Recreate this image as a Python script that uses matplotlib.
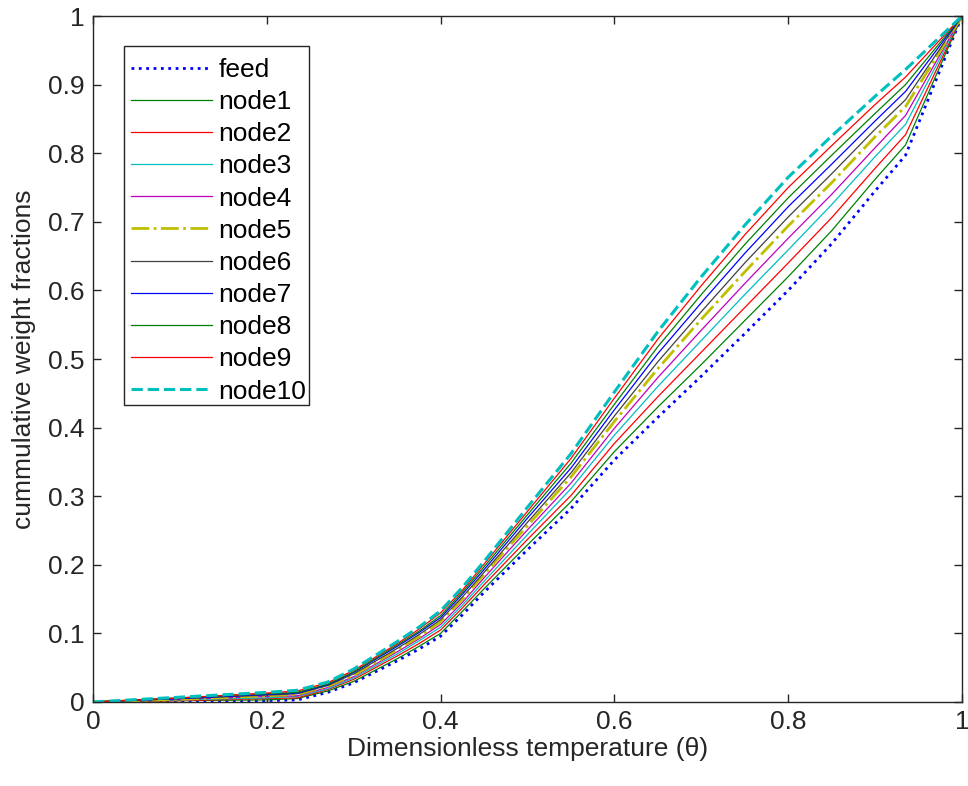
import matplotlib
matplotlib.use("Agg")
import matplotlib.pyplot as plt
from matplotlib.patches import Rectangle

plt.rcParams['font.family'] = ['Liberation Sans', 'DejaVu Sans']

theta = [0, 0.1, 0.2, 0.235, 0.27, 0.3, 0.35, 0.375, 0.4, 0.425, 0.45, 0.5, 0.55, 0.6,
         0.65, 0.7, 0.75, 0.8, 0.85, 0.9, 0.935, 1.0]

feed   = [0, 0.001, 0.002, 0.003, 0.014, 0.028, 0.060, 0.077, 0.096, 0.127, 0.160, 0.222, 0.282, 0.353, 0.415, 0.475, 0.537, 0.600, 0.668, 0.745, 0.797, 1]
node1  = [0, 0.002, 0.003, 0.005, 0.016, 0.030, 0.063, 0.081, 0.100, 0.132, 0.165, 0.229, 0.292, 0.365, 0.430, 0.492, 0.556, 0.620, 0.687, 0.762, 0.812, 1]
node2  = [0, 0.002, 0.005, 0.006, 0.018, 0.033, 0.067, 0.085, 0.105, 0.137, 0.171, 0.237, 0.301, 0.377, 0.445, 0.510, 0.575, 0.640, 0.706, 0.778, 0.827, 1]
node3  = [0, 0.003, 0.006, 0.008, 0.019, 0.035, 0.070, 0.089, 0.109, 0.141, 0.176, 0.244, 0.311, 0.389, 0.460, 0.527, 0.594, 0.659, 0.725, 0.795, 0.842, 1]
node4  = [0, 0.004, 0.008, 0.009, 0.021, 0.037, 0.073, 0.092, 0.113, 0.145, 0.181, 0.251, 0.319, 0.399, 0.473, 0.542, 0.610, 0.676, 0.740, 0.808, 0.855, 1]
node5  = [0, 0.004, 0.009, 0.011, 0.023, 0.039, 0.076, 0.095, 0.117, 0.150, 0.186, 0.257, 0.328, 0.409, 0.486, 0.558, 0.627, 0.694, 0.757, 0.824, 0.868, 1]
node6  = [0, 0.005, 0.010, 0.012, 0.024, 0.041, 0.078, 0.098, 0.120, 0.153, 0.189, 0.262, 0.334, 0.417, 0.496, 0.569, 0.640, 0.707, 0.770, 0.835, 0.878, 1]
node7  = [0, 0.005, 0.011, 0.013, 0.025, 0.043, 0.081, 0.101, 0.123, 0.157, 0.193, 0.268, 0.341, 0.426, 0.508, 0.582, 0.654, 0.722, 0.784, 0.847, 0.890, 1]
node8  = [0, 0.006, 0.012, 0.014, 0.026, 0.044, 0.083, 0.103, 0.126, 0.160, 0.197, 0.273, 0.348, 0.434, 0.518, 0.594, 0.667, 0.735, 0.797, 0.858, 0.900, 1]
node9  = [0, 0.006, 0.013, 0.016, 0.028, 0.046, 0.085, 0.106, 0.130, 0.163, 0.201, 0.278, 0.355, 0.443, 0.529, 0.607, 0.681, 0.750, 0.811, 0.871, 0.911, 1]
node10 = [0, 0.007, 0.014, 0.017, 0.029, 0.048, 0.088, 0.109, 0.133, 0.167, 0.205, 0.284, 0.362, 0.452, 0.540, 0.620, 0.695, 0.765, 0.825, 0.883, 0.922, 1]

labels = ['feed', 'node1', 'node2', 'node3', 'node4', 'node5', 'node6',
          'node7', 'node8', 'node9', 'node10']
series = [feed, node1, node2, node3, node4, node5, node6, node7, node8, node9, node10]

xticks = [0, 0.2, 0.4, 0.6, 0.8, 1]
xticklabels = ['0', '0.2', '0.4', '0.6', '0.8', '1']
yticks = [0, 0.1, 0.2, 0.3, 0.4, 0.5, 0.6, 0.7, 0.8, 0.9, 1]
yticklabels = ['0', '0.1', '0.2', '0.3', '0.4', '0.5', '0.6', '0.7', '0.8', '0.9', '1']

styles = [
    dict(color='#0000ff', linestyle=':', linewidth=2.0),
    dict(color='#008000', linestyle='-', linewidth=0.9),
    dict(color='#ff0000', linestyle='-', linewidth=0.9),
    dict(color='#00bfbf', linestyle='-', linewidth=0.9),
    dict(color='#bf00bf', linestyle='-', linewidth=0.9),
    dict(color='#bfbf00', linestyle='-.', linewidth=2.0),
    dict(color='#404040', linestyle='-', linewidth=0.9),
    dict(color='#0000ff', linestyle='-', linewidth=0.9),
    dict(color='#008000', linestyle='-', linewidth=0.9),
    dict(color='#ff0000', linestyle='-', linewidth=0.9),
    dict(color='#00bfbf', linestyle='--', linewidth=2.2),
]

fig = plt.figure(figsize=(9.68, 7.86), dpi=100)
ax = fig.add_axes([0.0961, 0.1069, 0.8977, 0.8727])

for ys, lab, st in zip(series, labels, styles):
    ax.plot(theta, ys, label=lab, **st)

ax.set_xlim(0, 1)
ax.set_ylim(0, 1)
ax.set_xticks(xticks)
ax.set_xticklabels(xticklabels)
ax.set_yticks(yticks)
ax.set_yticklabels(yticklabels)
ax.tick_params(direction='in', length=6, width=1.0, labelsize=19, colors='#262626',
               top=True, right=True, pad=6)
for s in ax.spines.values():
    s.set_color('#262626')
    s.set_linewidth(1.0)

ax.set_xlabel('Dimensionless temperature (θ)', fontsize=19, color='#262626', labelpad=2)
ax.set_ylabel('cummulative weight fractions', fontsize=19, color='#262626', labelpad=9)

# legend frame (MATLAB style, tight on the right)
ax.add_patch(Rectangle((0.0357, 0.4329), 0.2129, 0.5234, transform=ax.transAxes,
                       facecolor='white', edgecolor='#262626', linewidth=1.0, zorder=4))
leg = ax.legend(loc='upper left', bbox_to_anchor=(0.0362, 0.9487), fontsize=19,
                handlelength=3.07, handletextpad=0.25, labelspacing=0.31,
                borderpad=0.25, borderaxespad=0, frameon=False)
leg.set_zorder(5)

fig.savefig('out.png', dpi=100)
